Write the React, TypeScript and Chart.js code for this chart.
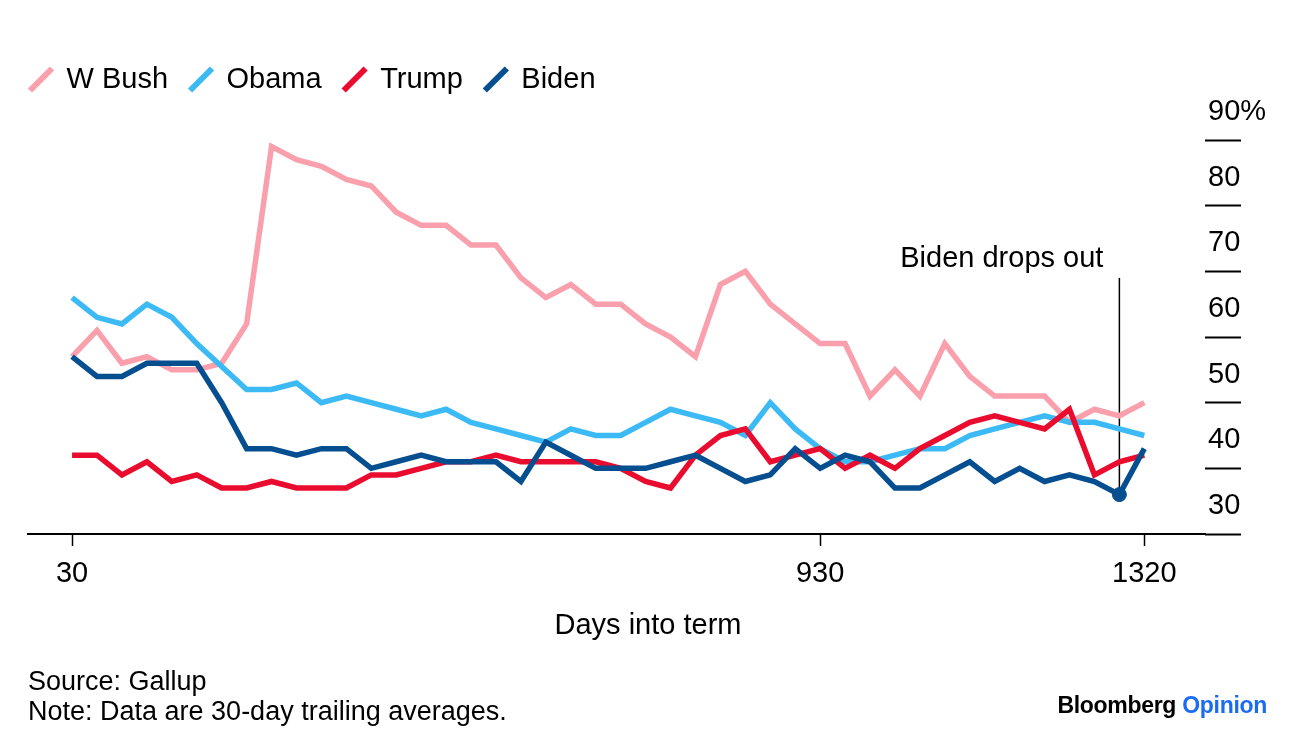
import React, { useEffect, useRef } from 'react';
import { Chart, registerables } from 'chart.js';

Chart.register(...registerables);

const FONT = '"Liberation Sans", Arial, Helvetica, sans-serif';

const DAYS = [30, 60, 90, 120, 150, 180, 210, 240, 270, 300, 330, 360, 390, 420, 450, 480, 510, 540, 570, 600, 630, 660, 690, 720, 750, 780, 810, 840, 870, 900, 930, 960, 990, 1020, 1050, 1080, 1110, 1140, 1170, 1200, 1230, 1260, 1290, 1320];

const W_BUSH = [57, 61, 56, 57, 55, 55, 56, 62, 89, 87, 86, 84, 83, 79, 77, 77, 74, 74, 69, 66, 68, 65, 65, 62, 60, 57, 68, 70, 65, 62, 59, 59, 51, 55, 51, 59, 54, 51, 51, 51, 47, 49, 48, 50];
const OBAMA = [66, 63, 62, 65, 63, 59, 55.5, 52, 52, 53, 50, 51, 50, 49, 48, 49, 47, 46, 45, 44, 46, 45, 45, 47, 49, 48, 47, 45, 50, 46, 43, 41, 41, 42, 43, 43, 45, 46, 47, 48, 47, 47, 46, 45];
const TRUMP = [42, 42, 39, 41, 38, 39, 37, 37, 38, 37, 37, 37, 39, 39, 40, 41, 41, 42, 41, 41, 41, 41, 40, 38, 37, 42, 45, 46, 41, 42, 43, 40, 42, 40, 43, 45, 47, 48, 47, 46, 49, 39, 41, 42];
const BIDEN = [57, 54, 54, 56, 56, 56, 50, 43, 43, 42, 43, 43, 40, 41, 42, 41, 41, 41, 38, 44, 42, 40, 40, 40, 41, 42, 40, 38, 39, 43, 40, 42, 41, 37, 37, 39, 41, 38, 40, 38, 39, 38, 36, 43];

const SERIES_NAMES = ['W Bush', 'Obama', 'Trump', 'Biden'];
const SERIES_COLORS = ['#f9a0ac', '#3cbaf6', '#ea0c2e', '#054f91'];

const X_TICKS = [30, 930, 1320];
const Y_TICKS = [30, 40, 50, 60, 70, 80, 90];

const DROPOUT_DAY = 1290;
const DROPOUT_LABEL = 'Biden drops out';
const DROPOUT_LINE_TOP = 69;

const X_TITLE = 'Days into term';
const SOURCE = 'Source: Gallup';
const NOTE = 'Note: Data are 30-day trailing averages.';

const dropoutPlugin = {
  id: 'dropoutAnnotation',
  beforeDatasetsDraw(chart: any) {
    const { ctx, scales } = chart;
    const x = scales.x;
    const y = scales.y;
    const idx = DAYS.indexOf(DROPOUT_DAY);
    const px = x.getPixelForValue(DROPOUT_DAY);
    const py = y.getPixelForValue(BIDEN[idx]);
    const top = y.getPixelForValue(DROPOUT_LINE_TOP);
    ctx.save();
    ctx.strokeStyle = '#000';
    ctx.lineWidth = 1.5;
    ctx.beginPath();
    ctx.moveTo(px, top);
    ctx.lineTo(px, py);
    ctx.stroke();
    ctx.fillStyle = '#000';
    ctx.font = `29px ${FONT}`;
    ctx.textAlign = 'right';
    ctx.textBaseline = 'middle';
    ctx.fillText(DROPOUT_LABEL, px - 16, top - 19);
    ctx.restore();
  },
};

const legendSpacer = {
  id: 'legendSpacer',
  beforeInit(chart: any) {
    const legend = chart.legend;
    if (!legend) return;
    const orig = legend.fit;
    legend.fit = function () {
      orig.call(this);
      this.height = 97;
    };
  },
};

export default function App() {
  const ref = useRef<HTMLCanvasElement>(null);

  useEffect(() => {
    const all = [W_BUSH, OBAMA, TRUMP, BIDEN];
    const dropIdx = DAYS.indexOf(DROPOUT_DAY);
    const datasets = all.map((vals, i) => ({
      label: SERIES_NAMES[i],
      data: DAYS.map((d, j) => ({ x: d, y: vals[j] })),
      borderColor: SERIES_COLORS[i],
      backgroundColor: SERIES_COLORS[i],
      borderWidth: 5.5,
      tension: 0,
      order: 4 - i,
      pointRadius: i === 3 ? (c: any) => (c.dataIndex === dropIdx ? 7 : 0) : 0,
      pointHoverRadius: 0,
      pointBorderWidth: 1,
      pointBorderColor: SERIES_COLORS[i],
      pointBackgroundColor: SERIES_COLORS[i],
    }));

    const chart = new Chart(ref.current as HTMLCanvasElement, {
      type: 'line',
      data: { datasets },
      options: {
        responsive: false,
        animation: false,
        events: [],
        layout: { padding: { left: 8, right: 0, top: 43, bottom: 109 } },
        plugins: {
          tooltip: { enabled: false },
          legend: {
            display: true,
            position: 'top',
            align: 'start',
            labels: {
              usePointStyle: true,
              boxWidth: 22,
              boxHeight: 22,
              padding: 22,
              color: '#000',
              font: { family: FONT, size: 29 },
              generateLabels: (ch: any) =>
                ch.data.datasets.map((ds: any, i: number) => ({
                  text: ds.label,
                  fillStyle: ds.borderColor,
                  strokeStyle: ds.borderColor,
                  lineWidth: 6,
                  lineCap: 'butt',
                  pointStyle: 'line',
                  rotation: -45,
                  hidden: false,
                  datasetIndex: i,
                  fontColor: '#000',
                })),
            },
          },
        },
        scales: {
          x: {
            type: 'linear',
            min: -23,
            max: 1393,
            afterBuildTicks: (axis: any) => {
              axis.ticks = X_TICKS.map((v) => ({ value: v }));
            },
            afterFit: (axis: any) => {
              axis.height = 107;
            },
            grid: {
              drawOnChartArea: false,
              drawTicks: true,
              tickLength: 12,
              tickWidth: 1.5,
              tickColor: '#000',
            },
            border: { display: true, color: '#000', width: 2 },
            ticks: {
              autoSkip: false,
              maxRotation: 0,
              padding: 11,
              color: '#000',
              font: { family: FONT, size: 29 },
              callback: (v: any) => String(v),
            },
          },
          y: {
            type: 'linear',
            position: 'right',
            min: 30,
            max: 90,
            afterBuildTicks: (axis: any) => {
              axis.ticks = Y_TICKS.map((v) => ({ value: v }));
            },
            afterFit: (axis: any) => {
              axis.width = 91;
            },
            grid: {
              drawOnChartArea: false,
              drawTicks: true,
              tickLength: 36,
              tickWidth: 2,
              tickColor: '#000',
            },
            border: { display: false },
            ticks: {
              padding: -33,
              labelOffset: -28,
              color: '#000',
              font: { family: FONT, size: 29 },
              callback: (v: any) => (v === 90 ? '90%' : String(v)),
            },
          },
          yPad: {
            type: 'linear',
            position: 'left',
            display: true,
            afterFit: (axis: any) => {
              axis.width = 20;
            },
            grid: { display: false },
            border: { display: false },
            ticks: { display: false },
          },
        },
      } as any,
      plugins: [legendSpacer, dropoutPlugin],
    });
    return () => chart.destroy();
  }, []);

  return (
    <div
      style={{
        position: 'absolute',
        left: 0,
        top: 0,
        width: 1296,
        height: 750,
        background: '#fff',
        fontFamily: FONT,
        color: '#000',
      }}
    >
      <canvas ref={ref} width={1296} height={750} style={{ position: 'absolute', left: 0, top: 0 }} />
      <div
        style={{
          position: 'absolute',
          left: 0,
          top: 607,
          width: 1296,
          textAlign: 'center',
          fontSize: 29,
          lineHeight: '34px',
        }}
      >
        {X_TITLE}
      </div>
      <div style={{ position: 'absolute', left: 28, top: 666, fontSize: 27, lineHeight: '30px', whiteSpace: 'nowrap' }}>
        <div>{SOURCE}</div>
        <div>{NOTE}</div>
      </div>
      <div
        style={{
          position: 'absolute',
          right: 29,
          top: 691,
          fontSize: 23,
          lineHeight: '28px',
          fontWeight: 700,
          letterSpacing: '-0.3px',
          whiteSpace: 'nowrap',
        }}
      >
        <span>Bloomberg</span> <span style={{ color: '#1a6cf5' }}>Opinion</span>
      </div>
    </div>
  );
}
